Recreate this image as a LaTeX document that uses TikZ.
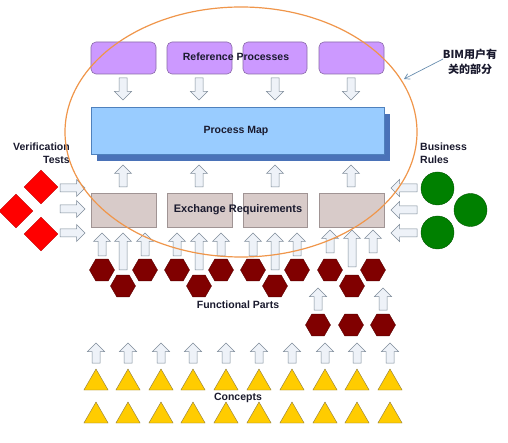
\documentclass[tikz,border=0pt]{standalone}
\usepackage{fontspec}
\setmainfont{Liberation Sans}
\newfontfamily\cjk{Noto Sans CJK SC}
\usetikzlibrary{shapes.geometric,arrows.meta}
\definecolor{txt}{HTML}{1A1A2E}
\definecolor{purplefill}{HTML}{CC99FF}
\definecolor{purpleline}{HTML}{8A6AA8}
\definecolor{mapfill}{HTML}{99CCFF}
\definecolor{mapline}{HTML}{4F81BD}
\definecolor{mapshadow}{HTML}{4A72B8}
\definecolor{exfill}{HTML}{D8CBC9}
\definecolor{exline}{HTML}{A09494}
\definecolor{arrfill}{HTML}{EEF2F8}
\definecolor{arrline}{HTML}{7F8C9A}
\definecolor{redfill}{HTML}{FF0000}
\definecolor{redline}{HTML}{C00000}
\definecolor{greenfill}{HTML}{008000}
\definecolor{greenline}{HTML}{005A00}
\definecolor{hexfill}{HTML}{800000}
\definecolor{hexline}{HTML}{5A0000}
\definecolor{trifill}{HTML}{FFCC00}
\definecolor{triline}{HTML}{8C7A3C}
\definecolor{ellcol}{HTML}{F0964A}
\definecolor{bimarrow}{HTML}{6A8FB0}
\tikzset{
  refbox/.style={draw=purpleline, fill=purplefill, rounded corners=5pt, line width=0.6pt},
  exbox/.style={draw=exline, fill=exfill, line width=0.6pt},
  pics/barr/.style={code={
    \draw[draw=arrline, fill=arrfill, line width=0.5pt, line join=miter]
      (-#1/2,-4) -- (#1/2-8.5,-4) -- (#1/2-8.5,-8.5) -- (#1/2,0) -- (#1/2-8.5,8.5)
      -- (#1/2-8.5,4) -- (-#1/2,4) -- cycle;
  }},
  diam/.style={diamond, draw=redline, fill=redfill, inner sep=0pt, minimum width=34pt, minimum height=34pt},
  grn/.style={circle, draw=greenline, fill=greenfill, inner sep=0pt, minimum size=33pt},
  hexa/.style={regular polygon, regular polygon sides=6, draw=hexline, fill=hexfill, inner sep=0pt, minimum size=25pt},
  tri/.style={regular polygon, regular polygon sides=3, draw=triline, fill=trifill, inner sep=0pt, minimum size=28pt},
  lbl/.style={text=txt, font=\bfseries\fontsize{10.5}{13}\selectfont, inner sep=0pt},
}
\begin{document}
\begin{tikzpicture}[x=1pt,y=-1pt]
\useasboundingbox[fill=white] (0,0) rectangle (508,443);
% reference processes
\foreach \a/\b [count=\i] in {91/156,167/232,243/307,319/384}
  \draw[refbox] (\a,42) rectangle (\b,74) node[pos=0.5] (rp\i) {};
\node[lbl] (rptext) at (236,57) {Reference Processes};
% down arrows
\foreach \x [count=\i] in {123,199,275,351}
  \pic[rotate=-90] (da\i) at (\x,89) {barr=22};
% process map
\fill[mapshadow] (97,114) rectangle (390,161);
\draw[draw=mapline, fill=mapfill, line width=0.6pt] (91,107) rectangle (384,154) node[pos=0.5] (pm) {};
\node[lbl] (pmtext) at (236,131) {Process Map};
% up arrows to process map
\foreach \x [count=\i] in {123,199,275,351}
  \pic[rotate=90] (ua\i) at (\x,176) {barr=22};
% exchange requirements
\foreach \a/\b [count=\i] in {91/156,167/232,243/307,319/384}
  \draw[exbox] (\a,193) rectangle (\b,227) node[pos=0.5] (er\i) {};
\node[lbl, font=\bfseries\fontsize{11}{13}\selectfont] (ertext) at (238,210) {Exchange Requirements};
% verification tests
\node[lbl, align=right, anchor=north east] (vt) at (70,143) {Verification\\Tests};
\node[diam] (d1) at (41,187) {};
\node[diam] (d2) at (16,211) {};
\node[diam] (d3) at (41,234) {};
\foreach \y [count=\i] in {188,209,233}
  \pic (ra\i) at (72.5,\y) {barr=25};
% business rules
\node[lbl, align=left, anchor=north west] (br) at (420,143) {Business\\Rules};
\node[grn] (c1) at (437.5,188.5) {};
\node[grn] (c2) at (470.5,210) {};
\node[grn] (c3) at (437.5,232.5) {};
\foreach \y [count=\i] in {188,210,233}
  \pic[rotate=180] (la\i) at (404,\y) {barr=26};
% arrows below exchange requirements
\foreach \l/\m/\r [count=\i] in {102/123/145,177/199/221,253/275/297}{
  \pic[rotate=90] (fl\i) at (\l,244.5) {barr=23};
  \pic[rotate=90] (fm\i) at (\m,251.5) {barr=37};
  \pic[rotate=90] (fr\i) at (\r,244.5) {barr=23};
}
\pic[rotate=90] (fl4) at (330,241.5) {barr=23};
\pic[rotate=90] (fm4) at (352,248.5) {barr=37};
\pic[rotate=90] (fr4) at (373,241.5) {barr=23};
% hexagons
\foreach \l/\m/\r [count=\i] in {102/123/145,177/199/221,253/275/297,330/352/373}{
  \node[hexa] (hl\i) at (\l,270) {};
  \node[hexa] (hr\i) at (\r,270) {};
  \node[hexa] (hm\i) at (\m,286) {};
}
\node[lbl] (fp) at (238,305) {Functional Parts};
\foreach \x [count=\i] in {318,351,383}
  \node[hexa] (hx\i) at (\x,325) {};
\pic[rotate=90] (xa1) at (318,299) {barr=22};
\pic[rotate=90] (xa2) at (383,299) {barr=22};
% concepts
\foreach \x [count=\i] in {96,128,161,193,226,259,292,325,357,390}{
  \pic[rotate=90] (ca\i) at (\x,353) {barr=20};
  \node[tri] (t\i) at (\x,383) {};
  \node[tri] (s\i) at (\x,416) {};
}
\node[lbl] (cc) at (238,398) {Concepts};
% ellipse
\draw[ellcol, line width=1.2pt] (241,132) ellipse [x radius=176, y radius=125];
% BIM label
\node[text=txt, font=\cjk\bfseries\fontsize{11}{15}\selectfont, align=center, inner sep=0pt] (bim) at (470,62) {BIM用户有\\关的部分};
\coordinate (bimfrom) at (443,59);
\coordinate (bimtip) at (404,79);
\draw[bimarrow, line width=0.7pt, -{Straight Barb[length=5pt,width=6pt]}] (bimfrom) -- (bimtip);
\end{tikzpicture}
\end{document}
